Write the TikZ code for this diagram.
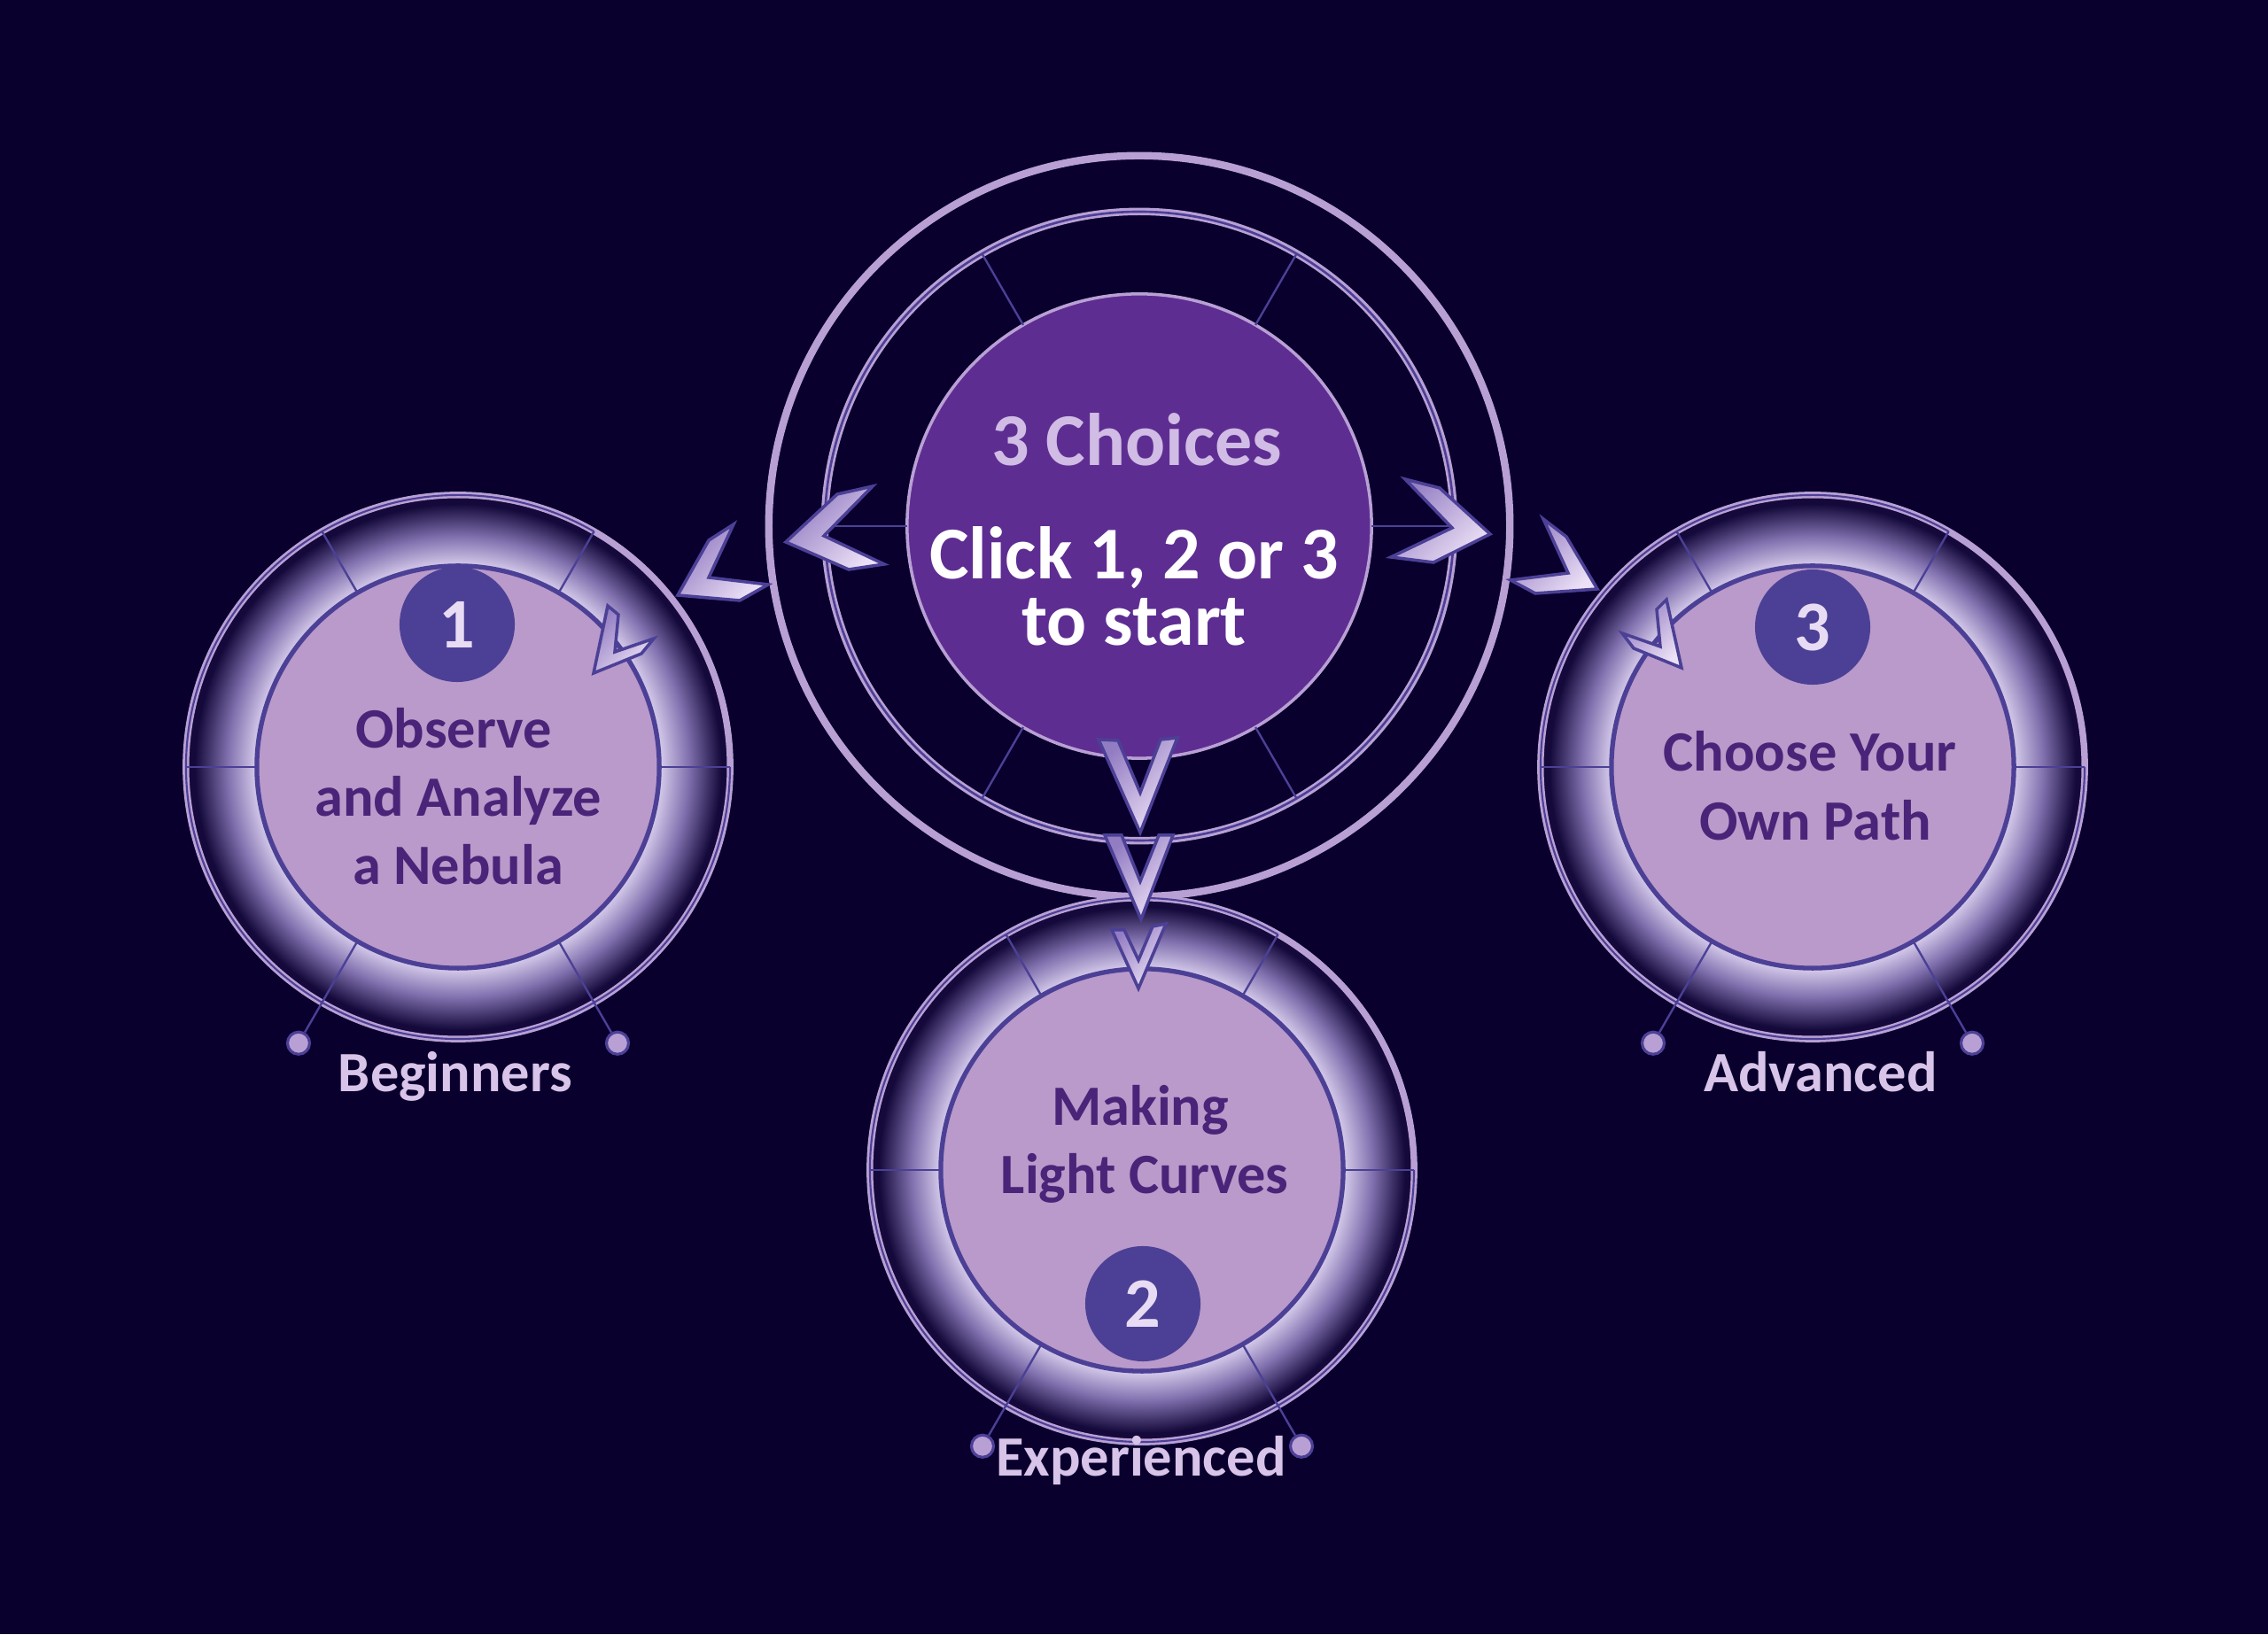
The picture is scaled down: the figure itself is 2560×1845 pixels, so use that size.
\documentclass[tikz,border=0pt]{standalone}
\usepackage{fontspec}
\setmainfont{Carlito}
\usetikzlibrary{calc}
\definecolor{bgc}{RGB}{9,0,46}
\definecolor{lav}{RGB}{185,160,212}
\definecolor{slate}{RGB}{76,64,150}
\definecolor{cpurple}{RGB}{94,45,146}
\definecolor{diskc}{RGB}{185,154,202}
\definecolor{dtext}{RGB}{74,36,120}
\definecolor{labelc}{RGB}{216,196,232}
\definecolor{choicec}{RGB}{208,188,228}
\definecolor{badgetxt}{RGB}{232,220,244}
\definecolor{chevdark}{RGB}{146,124,194}
\definecolor{chevlight}{RGB}{236,224,246}
\definecolor{glowA}{RGB}{218,208,238}
\definecolor{glowB}{RGB}{128,112,174}
\definecolor{glowC}{RGB}{20,9,58}
\pgfdeclareradialshading{glowshade}{\pgfpointorigin}{color(0bp)=(glowA); color(18.4bp)=(glowA); color(21.2bp)=(glowB); color(24.2bp)=(glowC); color(25bp)=(glowC); color(50bp)=(glowC)}
\newcommand\bigf{\fontsize{23.9pt}{21.3pt}\selectfont\bfseries}
\newcommand\midf{\fontsize{18.3pt}{22pt}\selectfont\bfseries}
\newcommand\numf{\fontsize{22.8pt}{27pt}\selectfont\bfseries}
\tikzset{
  ringnode/.style={circle, draw=lav, line width=2.1pt, inner sep=0pt, outer sep=0pt},
  diskn/.style={circle, fill=diskc, draw=slate, line width=1.5pt, minimum size=4.54cm, inner sep=0pt, outer sep=0pt},
  spoke/.style={draw=slate, line width=0.67pt},
  dotn/.style={circle, fill=lav, draw=slate, line width=0.9pt, minimum size=0.25cm, inner sep=0pt},
  badge/.style={circle, fill=slate, minimum size=1.3cm, inner sep=0pt, text=badgetxt, font=\numf},
  intext/.style={anchor=base, inner sep=0pt, text=dtext, font=\midf},
  lbl/.style={anchor=base, inner sep=0pt, text=labelc, font=\midf},
  bigtext/.style={inner sep=0pt, font=\bigf},
  chevst/.style={draw=slate, line width=1pt, line join=miter, top color=chevdark, bottom color=chevlight, shading angle=45}
}
% chevron from six measured points (pixels, y downwards): apex, outer tail, inner tail, notch, inner tail, outer tail
\newcommand\mychev[7]{%
  \begin{scope}[shift={(0,1845)}, yscale=-1]
    \coordinate (#1) at (#2);
    \path[chevst] (#1) -- (#3) -- (#4) -- (#5) -- (#6) -- (#7) -- cycle;
  \end{scope}}
\newcommand\mystage[2]{%
  \coordinate (#1) at (#2);
  \shade[shading=glowshade] (#1) circle[radius=307];
  \node[ringnode, minimum size=6.14cm] (#1r) at (#1) {};
  \draw[slate, line width=0.6pt] ($(#1)+(60:307)$) arc[start angle=60, end angle=360, radius=307];
  \node[diskn] (#1d) at (#1) {};
  \foreach \a in {0,60,120,180} {\draw[spoke] (#1d.\a) -- (#1r.\a);}
  \node[dotn] (#1p) at ($(#1)+(240:360)$) {};
  \node[dotn] (#1q) at ($(#1)+(300:360)$) {};
  \draw[spoke] (#1d.240) -- (#1p);
  \draw[spoke] (#1d.300) -- (#1q);
}
\begin{document}
\begin{tikzpicture}[x=0.01cm,y=0.01cm]
\useasboundingbox (0,0) rectangle (2560,1845);
\fill[bgc] (0,0) rectangle (2560,1845);

% central hub
\node[circle, draw=lav, line width=2.4pt, minimum size=8.36cm, inner sep=0pt, outer sep=0pt] (co) at (1286,1251) {};
\node[circle, draw=lav, line width=2.4pt, minimum size=7.1cm, inner sep=0pt, outer sep=0pt] (cr2) at (1286,1251) {};
\draw[slate, line width=0.75pt] (cr2.center) circle[radius=355];
\node[circle, fill=cpurple, draw=lav, line width=1pt, minimum size=5.24cm, inner sep=0pt, outer sep=0pt] (cdisk) at (1286,1251) {};
\foreach \a in {0,60,120,180,240,300} {\draw[spoke] (cdisk.\a) -- (cr2.\a);}
\node[bigtext, anchor=base, text=choicec] (t0a) at (1283,1319) {3 Choices};
\node[bigtext, anchor=south, align=center, text=white] (t0b) at (1280,1115) {Click 1, 2 or 3\\to start};

% three stages
\mystage{s1}{517,979}
\mystage{s2}{1289,524}
\mystage{s3}{2046,979}

\node[badge] (b1) at (516,1140) {1};
\node[badge] (b2) at (1290,373) {2};
\node[badge] (b3) at (2046,1137) {3};

\node[intext] (s1a) at (512,1000) {Observe};
\node[intext] (s1b) at (517,923) {and Analyze};
\node[intext] (s1c) at (517,846) {a Nebula};
\node[intext] (s2a) at (1287,574) {Making};
\node[intext] (s2b) at (1292,497) {Light Curves};
\node[intext] (s3a) at (2043,974) {Choose Your};
\node[intext] (s3b) at (2049,896) {Own Path};

\node[lbl] (l1) at (514,612) {Beginners};
\node[lbl] (l2) at (1288,178) {Experienced};
\node[lbl] (l3) at (2055,612) {Advanced};

% chevrons
\mychev{kl}{887,612}{945,558}{985,549}{930,605}{998,637}{958,643}
\mychev{kr}{1682,603}{1625,551}{1586,541}{1639,596}{1570,629}{1618,635}
\mychev{kd1}{1287,940}{1240,835}{1262,836}{1287,895}{1310,835}{1329,833}
\mychev{kd2}{1288,1038}{1247,943}{1266,943}{1287,995}{1308,943}{1324,943}
\mychev{kd3}{1285,1116}{1255,1050}{1269,1050}{1285,1084}{1301,1046}{1316,1043}
\mychev{k1o}{765,672}{800,610}{828,592}{800,652}{867,660}{835,678}
\mychev{k1i}{670,760}{686,684}{698,694}{694,736}{738,721}{724,738}
\mychev{k3o}{1803,665}{1768,606}{1742,586}{1770,647}{1705,655}{1733,670}
\mychev{k3i}{1898,754}{1881,677}{1870,688}{1874,730}{1831,715}{1844,732}
\end{tikzpicture}
\end{document}
